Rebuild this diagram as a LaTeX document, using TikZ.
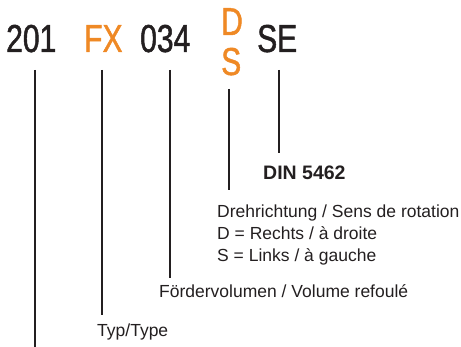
\documentclass[tikz,border=0pt]{standalone}
\usepackage{fontspec}
\setmainfont{Liberation Sans}
\newfontfamily\condfont[FakeStretch=0.77,FakeBold=1.2]{Liberation Sans}
\definecolor{codeorange}{RGB}{239,137,37}
\definecolor{inkgray}{RGB}{35,31,32}
\begin{document}
\begin{tikzpicture}[x=1pt,y=-1pt,
  code/.style={inner sep=0pt,anchor=base west,text=inkgray,font=\condfont\fontsize{39}{39}\selectfont},
  codeo/.style={code,text=codeorange},
  lbl/.style={inner sep=0pt,anchor=base west,text=inkgray,font=\fontsize{17.5}{20}\selectfont},
  bar/.style={draw=inkgray,line width=2.8pt}]
\useasboundingbox (0,0) rectangle (461,347);
\node[code]  (c1) at (6,52) {201};
\node[codeo] (c2) at (84,52) {FX};
\node[code]  (c3) at (140,52) {034};
\node[codeo] (c4) at (221,35) {D};
\node[codeo] (c4s) at (221,75) {S};
\node[code]  (c5) at (257,52) {SE};

\node[lbl,font=\bfseries\fontsize{19.5}{21}\selectfont] (din) at (263,180) {DIN 5462};
\node[lbl] (dreh) at (217,218) {Drehrichtung / Sens de rotation};
\node[lbl] (dr) at (217,240) {D = Rechts / à droite};
\node[lbl] (sl) at (217,262) {S = Links / à gauche};
\node[lbl] (foerd) at (159,298) {Fördervolumen / Volume refoulé};
\node[lbl] (typ) at (97,337) {Typ/Type};

\coordinate (t1) at (35,70);  \coordinate (b1) at (35,347);
\coordinate (t2) at (102,70); \coordinate (b2) at (102,315);
\coordinate (t3) at (170,70); \coordinate (b3) at (170,278);
\coordinate (t4) at (229,89); \coordinate (b4) at (229,190);
\coordinate (t5) at (279,70); \coordinate (b5) at (279,153);
\draw[bar] (t1) -- (b1);
\draw[bar] (t2) -- (b2);
\draw[bar] (t3) -- (b3);
\draw[bar] (t4) -- (b4);
\draw[bar] (t5) -- (b5);
\end{tikzpicture}
\end{document}
